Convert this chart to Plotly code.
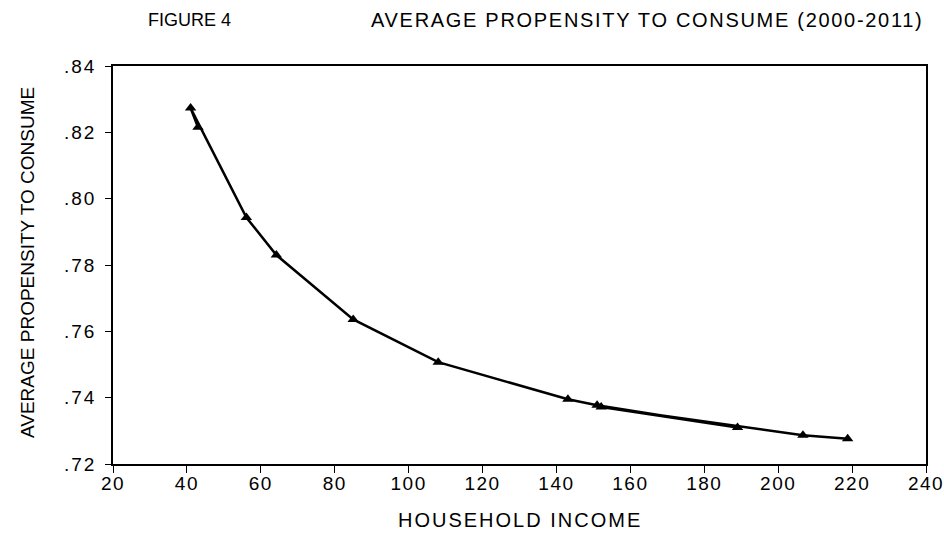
import plotly.graph_objects as go

# Observations 2000-2011 in time order
years = list(range(2000, 2012))
household_income = [43.0, 41.0, 56.1, 64.2, 85.0, 108.0, 143.1, 151.0, 189.0, 152.1, 206.7, 218.8]
apc = [0.8215, 0.8273, 0.7943, 0.7830, 0.7636, 0.7507, 0.7395, 0.7377, 0.7310, 0.7372, 0.7287, 0.7276]

x_ticks = [20, 40, 60, 80, 100, 120, 140, 160, 180, 200, 220, 240]
x_tick_labels = ["20", "40", "60", "80", "100", "120", "140", "160", "180", "200", "220", "240"]
y_ticks = [0.72, 0.74, 0.76, 0.78, 0.80, 0.82, 0.84]
y_tick_labels = [".72", ".74", ".76", ".78", ".80", ".82", ".84"]

FONT = "Liberation Sans, Arial, Helvetica, sans-serif"


def spaced(s, px):
    return "<span style='letter-spacing:%.1fpx'>%s</span>" % (px, s)


L, R, T, B = 113, 926, 66, 464
PW, PH = R - L, B - T

fig = go.Figure()
fig.add_trace(go.Scatter(
    x=household_income, y=apc, mode="lines+markers",
    line=dict(color="black", width=2.5),
    marker=dict(symbol="triangle-up", size=10, color="black"),
    showlegend=False,
))

fig.update_layout(
    width=944, height=542,
    margin=dict(l=L, r=944 - R, t=T, b=542 - B, autoexpand=False),
    paper_bgcolor="white", plot_bgcolor="white",
    font=dict(family=FONT, size=19, color="black"),
)
fig.update_xaxes(
    range=[20, 240], tickvals=x_ticks,
    ticktext=[spaced(t, 1.5) for t in x_tick_labels],
    ticks="outside", ticklen=7, ticklabeloverflow="allow",
    tickcolor="black", showline=True, linecolor="black", linewidth=1.5,
    mirror=True, showgrid=False, zeroline=False, automargin=False,
    tickfont=dict(family=FONT, size=19), ticklabelstandoff=-6,
)
fig.update_yaxes(
    range=[0.72, 0.84], tickvals=y_ticks,
    ticktext=[spaced(t, 2.0) for t in y_tick_labels],
    ticks="outside", ticklen=6, tickcolor="black", showline=True,
    linecolor="black", linewidth=1.5, mirror=True, showgrid=False,
    zeroline=False, automargin=False, ticklabeloverflow="allow",
    tickfont=dict(family=FONT, size=19), ticklabelstandoff=5,
)

fig.add_annotation(text="FIGURE 4", xref="paper", yref="paper",
                   x=(146 - L) / PW, y=1 + (T - 20) / PH, xanchor="left",
                   yanchor="middle", showarrow=False, font=dict(size=18))
fig.add_annotation(text=spaced("AVERAGE PROPENSITY TO CONSUME (2000-2011)", 1.7),
                   xref="paper", yref="paper", x=(925 - L) / PW,
                   y=1 + (T - 20) / PH, xanchor="right", yanchor="middle",
                   showarrow=False, font=dict(size=20))
fig.add_annotation(text="AVERAGE PROPENSITY TO CONSUME", xref="paper",
                   yref="paper", x=(27 - L) / PW, y=(B - 263) / PH,
                   textangle=-90, xanchor="center", yanchor="middle",
                   showarrow=False, font=dict(size=19))
fig.add_annotation(text=spaced("HOUSEHOLD INCOME", 2.0), xref="paper", yref="paper",
                   x=(520 - L) / PW, y=-(520 - B) / PH, xanchor="center",
                   yanchor="middle", showarrow=False, font=dict(size=20))

fig.write_html("out.html", config={"displayModeBar": False},
               post_script="document.body.style.margin='0px';")
